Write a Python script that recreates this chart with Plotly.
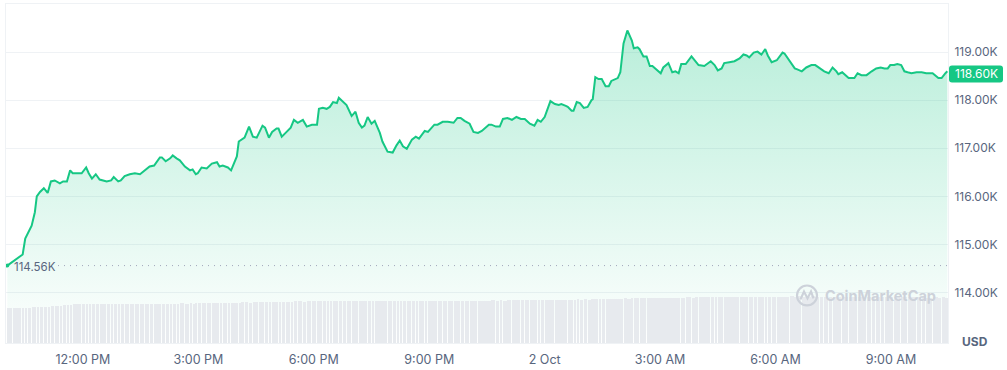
import plotly.graph_objects as go
from datetime import datetime, timedelta

# ---------------- data ----------------
times = [
    "10:02", "10:11", "10:25", "10:26", "10:30", "10:34", "10:40", "10:45", "10:48", "10:53",
    "10:59", "11:05", "11:10", "11:16", "11:24", "11:29", "11:35", "11:40", "11:44", "11:58",
    "12:05", "12:09", "12:14", "12:20", "12:26", "12:37", "12:44", "12:48", "12:55", "12:59",
    "13:05", "13:13", "13:21", "13:29", "13:37", "13:44", "13:51", "14:00", "14:03", "14:09",
    "14:16", "14:20", "14:26", "14:31", "14:39", "14:47", "14:51", "14:56", "14:59", "15:05",
    "15:13", "15:21", "15:29", "15:33", "15:38", "15:46", "15:51", "16:00", "16:03", "16:08",
    "16:12", "16:19", "16:25", "16:31", "16:34", "16:40", "16:44", "16:50", "16:55", "17:02",
    "17:05", "17:10", "17:16", "17:24", "17:29", "17:35", "17:43", "17:49", "17:57", "18:05",
    "18:08", "18:14", "18:20", "18:25", "18:30", "18:36", "18:39", "18:45", "18:51", "18:59",
    "19:05", "19:10", "19:15", "19:19", "19:24", "19:30", "19:35", "19:43", "19:47", "19:55",
    "20:03", "20:09", "20:14", "20:19", "20:25", "20:33", "20:39", "20:44", "20:53", "20:58",
    "21:08", "21:13", "21:21", "21:29", "21:38", "21:44", "21:49", "21:55", "22:03", "22:09",
    "22:16", "22:22", "22:26", "22:33", "22:37", "22:44", "22:50", "22:55", "23:02", "23:09",
    "23:16", "23:23", "23:29", "23:37", "23:44", "23:49", "23:54", "00:00", "00:09", "00:16",
    "00:22", "00:26", "00:33", "00:36", "00:42", "00:45", "00:50", "00:55", "01:01", "01:07",
    "01:13", "01:15", "01:19", "01:24", "01:29", "01:35", "01:40", "01:44", "01:54", "01:58",
    "02:03", "02:09", "02:16", "02:19", "02:25", "02:28", "02:34", "02:39", "02:44", "02:48",
    "03:01", "03:05", "03:13", "03:19", "03:24", "03:29", "03:33", "03:40", "03:49", "03:55",
    "04:00", "04:09", "04:19", "04:25", "04:30", "04:36", "04:40", "04:48", "04:56", "05:04",
    "05:10", "05:15", "05:19", "05:26", "05:32", "05:38", "05:44", "05:48", "05:54", "06:02",
    "06:11", "06:14", "06:22", "06:30", "06:34", "06:41", "06:48", "06:56", "07:02", "07:09",
    "07:16", "07:23", "07:29", "07:35", "07:38", "07:44", "07:54", "08:03", "08:08", "08:14",
    "08:22", "08:30", "08:37", "08:44", "08:50", "08:55", "08:59", "09:05", "09:10", "09:16",
    "09:21", "09:26", "09:32", "09:40", "09:48", "09:55", "10:05", "10:14", "10:19", "10:25",
    "10:28",
]

# price in thousands of USD
prices = [
    114.56, 114.64, 114.77, 114.79, 115.12, 115.22, 115.39, 115.67, 116.00, 116.09,
    116.17, 116.07, 116.31, 116.33, 116.27, 116.31, 116.31, 116.54, 116.48, 116.48,
    116.60, 116.48, 116.37, 116.46, 116.35, 116.31, 116.33, 116.40, 116.31, 116.33,
    116.42, 116.46, 116.48, 116.46, 116.54, 116.62, 116.64, 116.81, 116.81, 116.73,
    116.79, 116.85, 116.79, 116.75, 116.62, 116.54, 116.56, 116.46, 116.48, 116.60,
    116.58, 116.68, 116.71, 116.62, 116.64, 116.60, 116.54, 116.83, 117.14, 117.18,
    117.22, 117.45, 117.24, 117.22, 117.30, 117.47, 117.43, 117.22, 117.34, 117.41,
    117.41, 117.24, 117.32, 117.43, 117.59, 117.53, 117.59, 117.45, 117.49, 117.49,
    117.82, 117.84, 117.82, 117.86, 117.96, 117.94, 118.05, 117.98, 117.90, 117.67,
    117.76, 117.53, 117.43, 117.47, 117.65, 117.51, 117.57, 117.32, 117.14, 116.93,
    116.91, 117.06, 117.16, 117.04, 116.99, 117.18, 117.24, 117.20, 117.36, 117.34,
    117.49, 117.49, 117.55, 117.55, 117.53, 117.63, 117.63, 117.57, 117.51, 117.34,
    117.32, 117.36, 117.41, 117.49, 117.49, 117.45, 117.45, 117.61, 117.63, 117.59,
    117.65, 117.61, 117.61, 117.51, 117.47, 117.59, 117.55, 117.65, 117.98, 117.92,
    117.90, 117.92, 117.88, 117.86, 117.78, 117.78, 117.96, 117.94, 117.84, 117.86,
    118.00, 118.02, 118.48, 118.44, 118.44, 118.29, 118.29, 118.40, 118.46, 118.58,
    119.18, 119.45, 119.24, 119.08, 119.10, 119.06, 118.91, 118.91, 118.71, 118.71,
    118.56, 118.68, 118.77, 118.58, 118.60, 118.56, 118.75, 118.75, 118.91, 118.81,
    118.73, 118.71, 118.81, 118.73, 118.62, 118.66, 118.77, 118.79, 118.81, 118.87,
    118.95, 118.93, 118.89, 118.99, 119.01, 118.95, 119.06, 118.93, 118.79, 118.83,
    118.99, 118.97, 118.81, 118.66, 118.64, 118.60, 118.68, 118.73, 118.73, 118.66,
    118.60, 118.56, 118.68, 118.60, 118.54, 118.58, 118.46, 118.46, 118.56, 118.52,
    118.52, 118.60, 118.66, 118.68, 118.66, 118.66, 118.73, 118.73, 118.75, 118.73,
    118.60, 118.58, 118.56, 118.58, 118.58, 118.56, 118.56, 118.46, 118.46, 118.56,
    118.60,
]

# 24h volume, billions of USD
volumes = [
    58.3, 58.5, 58.8, 58.6, 59.2, 59.6, 60.0, 60.1, 60.4, 60.2,
    60.8, 61.3, 61.6, 62.2, 62.5, 63.6, 64.2, 64.5, 64.8, 65.0,
    65.3, 64.9, 65.1, 65.4, 65.2, 65.0, 65.3, 65.6, 65.1, 65.4,
    65.5, 65.2, 65.6, 65.3, 65.8, 65.5, 65.7, 66.0, 65.6, 66.1,
    66.2, 66.4, 66.0, 66.5, 66.3, 66.7, 66.4, 66.8, 66.6, 67.0,
    67.2, 67.0, 67.5, 67.3, 67.6, 67.4, 67.8, 68.0, 67.7, 68.2,
    68.4, 68.1, 68.6, 68.3, 68.8, 68.5, 69.0, 68.7, 69.2, 69.0,
    69.4, 69.1, 69.6, 69.3, 69.8, 70.0, 69.7, 70.2, 69.9, 70.3,
    70.1, 70.4, 70.2, 70.5, 70.3, 70.6, 70.4, 70.2, 70.5, 70.3,
    70.6, 70.4, 70.7, 70.5, 70.3, 70.6, 70.4, 70.8, 70.5, 70.7,
    70.4, 70.6, 70.3, 70.7, 70.5, 70.8, 70.6, 70.4, 70.7, 70.5,
    70.8, 70.6, 70.9, 70.7, 71.0, 70.8, 71.1, 70.9, 71.2, 71.0,
    71.3, 71.1, 71.4, 71.2, 71.5, 71.3, 71.6, 71.4, 71.7, 71.5,
    71.8, 71.6, 71.9, 72.1, 71.8, 72.2, 72.0, 72.3, 72.1, 72.4,
    72.6, 72.3, 72.8, 72.5, 73.0, 72.7, 73.2, 72.9, 73.4, 73.1,
    73.6, 73.3, 73.8, 74.0, 73.7, 74.2, 74.4, 74.1, 74.6, 74.8,
    75.0, 74.7, 75.2, 75.4, 75.1, 75.6, 75.3, 75.8, 75.5, 75.9,
    76.0, 75.8, 76.2, 76.4, 76.1, 76.5, 76.3, 76.7, 76.5, 76.8,
    76.9, 76.7, 77.1, 76.9, 77.2, 77.0, 77.4, 77.2, 77.5, 77.3,
    77.6, 77.4, 77.7, 77.5, 77.8, 77.6, 77.9, 77.7, 78.0, 77.8,
    78.1, 77.9, 78.2, 78.0, 78.3, 78.1, 77.9, 78.2, 78.0, 77.8,
    78.0, 77.7, 77.9, 77.6, 77.8, 77.5, 77.7, 77.4, 77.6, 77.3,
    77.5, 77.2, 77.4, 77.1, 77.3, 77.0, 77.2, 76.9, 77.1, 76.8,
    77.0, 76.7, 76.9, 76.6, 76.8, 76.5, 76.7, 76.4, 76.6, 76.3,
    76.5,
]

open_price = 114.56
last_price = 118.60
y_ticks = [114, 115, 116, 117, 118, 119]
y_tick_text = ["114.00K", "115.00K", "116.00K", "117.00K", "118.00K", "119.00K"]
x_tick_times = ["2025-10-01 12:00", "2025-10-01 15:00", "2025-10-01 18:00", "2025-10-01 21:00",
                "2025-10-02 00:00", "2025-10-02 03:00", "2025-10-02 06:00", "2025-10-02 09:00"]
x_tick_text = ["12:00 PM", "3:00 PM", "6:00 PM", "9:00 PM", "2 Oct", "3:00 AM", "6:00 AM", "9:00 AM"]

# ---------------- build timestamps ----------------
day = datetime(2025, 10, 1)
stamps = []
prev = None
for t in times:
    h, m = map(int, t.split(":"))
    if prev is not None and (h, m) < prev:
        day = day + timedelta(days=1)
    prev = (h, m)
    stamps.append(day + timedelta(hours=h, minutes=m))

n = min(len(stamps), len(prices), len(volumes))
stamps, prices, volumes = stamps[:n], prices[:n], volumes[:n]

# bar widths from spacing (ms), leaving a thin gap
widths = []
for i in range(n):
    if i < n - 1:
        dt = (stamps[i + 1] - stamps[i]).total_seconds() * 1000
    else:
        dt = 4 * 60 * 1000
    widths.append(max(dt - 70 * 1000, 60 * 1000))

GREEN = "#16c784"
GRAY = "#58667e"
GRID = "#eff2f5"
FONT = "Inter, Roboto, sans-serif"

Y_MIN, Y_MAX = 112.95, 120.0
X_MIN, X_MAX = "2025-10-01 10:00", "2025-10-02 10:29"

# plot geometry in px (for decorations)
L, R, T, B = 6, 948, 3, 345
W, H = R - L, B - T
def px(x):
    return (x - L) / W
def py(y):
    return (B - y) / H

fig = go.Figure()

fig.add_trace(go.Scatter(
    x=stamps, y=prices, mode="lines",
    line=dict(color=GREEN, width=2),
    fill="tozeroy",
    fillgradient=dict(type="vertical", start=Y_MIN, stop=119.45,
                      colorscale=[[0, "rgba(22,199,132,0.0)"], [1, "rgba(22,199,132,0.30)"]]),
    hoverinfo="skip", showlegend=False,
))

fig.add_trace(go.Bar(
    x=stamps, y=volumes, width=widths, offset=0,
    marker=dict(color="#e7eaee", line=dict(width=0)),
    yaxis="y2", hoverinfo="skip", showlegend=False,
))

fig.add_trace(go.Scatter(
    x=[stamps[0]], y=[prices[0]], mode="markers",
    marker=dict(color=GREEN, size=4), hoverinfo="skip", showlegend=False,
))

shapes = []
# opening price dotted line
shapes.append(dict(type="line", xref="paper", yref="y", x0=px(58), x1=1, y0=open_price, y1=open_price,
                   line=dict(color="#a1a7bb", width=1, dash="1px,5px"), layer="above"))
# price badge (rounded)
bx0, bx1 = px(949), px(1003)
by0, by1 = 118.37, 118.72
rx, ry = 3 / W, 3 / 48.5
path = (f"M {bx0+rx},{by0} L {bx1-rx},{by0} Q {bx1},{by0} {bx1},{by0+ry} "
        f"L {bx1},{by1-ry} Q {bx1},{by1} {bx1-rx},{by1} L {bx0+rx},{by1} "
        f"Q {bx0},{by1} {bx0},{by1-ry} L {bx0},{by0+ry} Q {bx0},{by0} {bx0+rx},{by0} Z")
shapes.append(dict(type="path", xref="paper", yref="y", path=path,
                   fillcolor=GREEN, line=dict(width=0), layer="above"))
# watermark logo
shapes.append(dict(type="circle", xref="paper", yref="paper",
                   x0=px(797), x1=px(817), y0=py(307), y1=py(287),
                   line=dict(color="#cdd2da", width=2.2), layer="above"))
wave = [(800.5, 301), (804, 293), (807.5, 300), (811, 293), (813.5, 300)]
wp = "M " + " L ".join(f"{px(a)},{py(b)}" for a, b in wave)
shapes.append(dict(type="path", xref="paper", yref="paper", path=wp,
                   line=dict(color="#cdd2da", width=2.2), layer="above"))

annotations = [
    dict(text="114.56K", xref="paper", yref="y", x=px(12), y=open_price - 0.03,
         xanchor="left", yanchor="middle", showarrow=False,
         font=dict(family=FONT, size=11.5, color=GRAY)),
    dict(text="118.60K", xref="paper", yref="y", x=px(976), y=118.545,
         xanchor="center", yanchor="middle", showarrow=False,
         font=dict(family=FONT, size=12, color="white")),
    dict(text="<b>USD</b>", xref="paper", yref="paper", x=px(975), y=py(343),
         xanchor="center", yanchor="middle", showarrow=False,
         font=dict(family=FONT, size=12, color=GRAY)),
    dict(text="<b>CoinMarketCap</b>", xref="paper", yref="paper", x=px(823), y=py(297.5),
         xanchor="left", yanchor="middle", showarrow=False,
         font=dict(family=FONT, size=14.5, color="#cdd2da")),
]

fig.update_layout(
    width=1007, height=370,
    margin=dict(l=L, r=1007 - R, t=T, b=370 - B),
    paper_bgcolor="white", plot_bgcolor="white",
    font=dict(family=FONT, size=12, color=GRAY),
    xaxis=dict(type="date", range=[X_MIN, X_MAX], tickvals=x_tick_times, ticktext=x_tick_text,
               showgrid=False, zeroline=False, showline=True, mirror=True, linecolor=GRID,
               linewidth=1, ticks="", ticklabelstandoff=5, tickfont=dict(size=12.5, color=GRAY)),
    yaxis=dict(range=[Y_MIN, Y_MAX], side="right", tickvals=y_ticks, ticktext=y_tick_text,
               showgrid=True, gridcolor=GRID, gridwidth=1, zeroline=False,
               showline=True, mirror=True, linecolor=GRID, ticks="",
               ticklabelstandoff=3, tickfont=dict(size=12, color=GRAY)),
    yaxis2=dict(overlaying="y", range=[0, 570], visible=False, showgrid=False),
    bargap=0,
    shapes=shapes, annotations=annotations,
    showlegend=False,
)

fig.write_html("out.html", config={"displayModeBar": False},
               post_script="document.body.style.margin='0';document.body.style.overflow='hidden';")
